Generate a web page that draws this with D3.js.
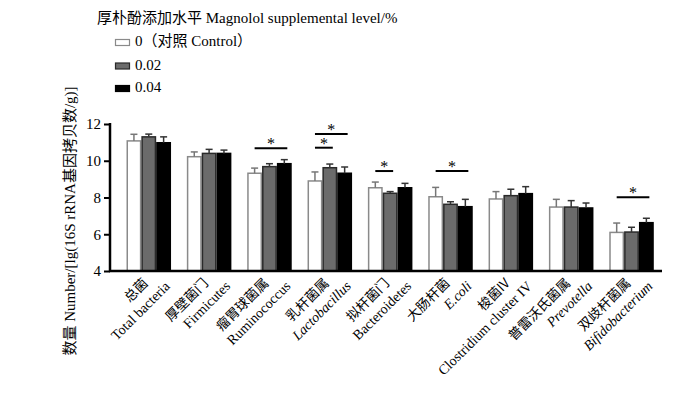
<!DOCTYPE html>
<html><head><meta charset="utf-8">
<script src="https://cdn.jsdelivr.net/npm/d3@7"></script>
<style>
body{margin:0;background:#fff;}
svg{display:block;}
text{font-family:'Liberation Serif','Noto Sans CJK SC',serif;fill:#000;}
</style></head>
<body><svg id="chart" width="700" height="397"></svg>
<script>
const categoriesCN = ["总菌","厚壁菌门","瘤胃球菌属","乳杆菌属","拟杆菌门","大肠杆菌","梭菌IV","普雷沃氏菌属","双歧杆菌属"];
const categoriesEN = ["Total bacteria","Firmicutes","Ruminococcus","Lactobacillus","Bacteroidetes","E.coli","Clostridium cluster IV","Prevotella","Bifidobacterium"];
const italicEN = [false,false,false,true,false,true,false,true,true];
const seriesNames = ["0（对照 Control）","0.02","0.04"];
const values0 = [11.08,10.22,9.32,8.90,8.53,8.04,7.92,7.48,6.10];
const errors0 = [0.36,0.26,0.28,0.49,0.31,0.51,0.40,0.42,0.51];
const values1 = [11.30,10.40,9.68,9.62,8.23,7.63,8.10,7.48,6.12];
const errors1 = [0.15,0.22,0.16,0.20,0.09,0.14,0.35,0.35,0.26];
const values2 = [10.98,10.40,9.84,9.32,8.53,7.50,8.21,7.43,6.63];
const errors2 = [0.32,0.18,0.22,0.34,0.24,0.40,0.38,0.27,0.24];
const yTicks = [4,6,8,10,12];
// significance brackets: category index, from series, to series, level (y units)
const sigCat = [2,3,3,4,5,8];
const sigFrom = [0,0,0,0,0,0];
const sigTo = [2,2,1,1,2,2];
const sigLevel = [10.68,11.46,10.71,9.44,9.44,8.01];

const legendTitle = "厚朴酚添加水平 Magnolol supplemental level/%";
const yTitle = "数量 Number/[lg(16S rRNA基因拷贝数/g)]";

const values = [values0,values1,values2];
const errors = [errors0,errors1,errors2];
const fills = ["#ffffff","#6b6b6b","#000000"];
const strokes = ["#8a8a8a","#2a2a2a","#000000"];

const svg = d3.select("#chart");
const y = d3.scaleLinear().domain([4,12]).range([271,124]);
const x = d3.scaleBand().domain(d3.range(categoriesCN.length)).range([118.6,661.7]).paddingInner(0.262).paddingOuter(0.131);
const xs = d3.scaleBand().domain([0,1,2]).range([0,x.bandwidth()]);

// bars
const g = svg.append("g");
for (let s=0;s<3;s++){
  const gs = g.append("g");
  gs.selectAll("rect").data(values[s]).join("rect")
    .attr("x",(d,i)=>x(i)+xs(s)+0.75)
    .attr("y",d=>y(d))
    .attr("width",xs.bandwidth()-1.5)
    .attr("height",d=>y(4)-y(d))
    .attr("fill",fills[s]).attr("stroke",strokes[s]).attr("stroke-width",1.5);
  // error bars (upper only)
  const eg = g.append("g").attr("stroke", s===0?"#777":"#333").attr("stroke-width",1.5);
  values[s].forEach((v,i)=>{
    const cx = x(i)+xs(s)+xs.bandwidth()/2;
    eg.append("line").attr("x1",cx).attr("x2",cx).attr("y1",y(v)).attr("y2",y(v+errors[s][i]));
    eg.append("line").attr("x1",cx-3.5).attr("x2",cx+3.5).attr("y1",y(v+errors[s][i])).attr("y2",y(v+errors[s][i]));
  });
}

// axes
const yAxis = d3.axisLeft(y).tickValues(yTicks).tickSize(6).tickPadding(3).tickFormat(d3.format("d"));
const ya = svg.append("g").attr("transform","translate(110,0)").call(yAxis);
ya.select(".domain").remove();
ya.selectAll("line").attr("stroke","#000").attr("stroke-width",2);
ya.selectAll("text").style("font-size","15px").style("font-family","'Liberation Serif',serif");
svg.append("line").attr("x1",110).attr("x2",110).attr("y1",y(12)-1).attr("y2",y(4)+1).attr("stroke","#000").attr("stroke-width",2.5);
svg.append("line").attr("x1",109).attr("x2",662).attr("y1",y(4)).attr("y2",y(4)).attr("stroke","#000").attr("stroke-width",2.5);

// significance
sigCat.forEach((c,k)=>{
  const x1 = x(c)+xs(sigFrom[k])+xs.bandwidth()/2;
  const x2 = x(c)+xs(sigTo[k])+xs.bandwidth()/2+3;
  const yy = y(sigLevel[k]);
  svg.append("line").attr("x1",x1).attr("x2",x2).attr("y1",yy).attr("y2",yy).attr("stroke","#000").attr("stroke-width",2);
  svg.append("text").attr("x",(x1+x2)/2).attr("y",yy+1).attr("text-anchor","middle").style("font-size","16px").text("*");
});

// x labels
categoriesCN.forEach((cn,i)=>{
  const cx = x(i)+x.bandwidth()/2;
  svg.append("text").attr("transform",`translate(${cx},${284}) rotate(-45)`).attr("text-anchor","end")
    .style("font-size","13.5px").style("font-family","'Noto Sans CJK SC',sans-serif").text(cn);
  svg.append("text").attr("transform",`translate(${cx+22},${287}) rotate(-45)`).attr("text-anchor","end")
    .style("font-size","14px").style("font-style",italicEN[i]?"italic":"normal").text(categoriesEN[i]);
});

// y title
svg.append("text").attr("transform","translate(75,221) rotate(-90)").attr("text-anchor","middle")
  .style("font-size","15px").text(yTitle);

// legend
svg.append("text").attr("x",97).attr("y",23).style("font-size","15px").text(legendTitle);
const legY = [44,67.5,90];
seriesNames.forEach((n,s)=>{
  svg.append("rect").attr("x",115.5).attr("y",legY[s]-4.5).attr("width",14).attr("height",6)
    .attr("fill",fills[s]).attr("stroke",strokes[s]).attr("stroke-width",1.2);
  svg.append("text").attr("x",135).attr("y",legY[s]+2).style("font-size","15px").text(n);
});
</script></body></html>
